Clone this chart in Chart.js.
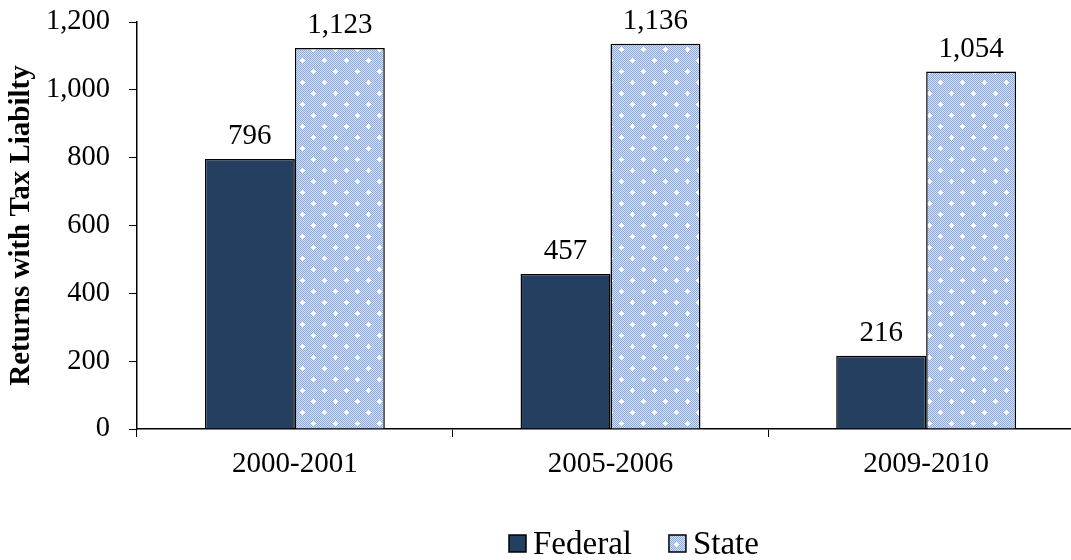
<!DOCTYPE html>
<html>
<head>
<meta charset="utf-8">
<script src="https://cdn.jsdelivr.net/npm/chart.js@4"></script>
<style>
  html, body { margin: 0; padding: 0; background: #fff; overflow: hidden; }
  #wrap { width: 1071px; height: 560px; overflow: hidden; }
</style>
</head>
<body>
<div id="wrap"><canvas id="taxChart" width="1100" height="560"></canvas></div>
<script>
// chart data
var periods = ['2000-2001', '2005-2006', '2009-2010'];
var federalReturns = [796, 457, 216];
var stateReturns = [1123, 1136, 1054];
var yTicks = [0, 200, 400, 600, 800, 1000, 1200];

var serif = '"Liberation Serif", "Times New Roman", serif';

// light blue checker with white sparkles, like the excel fill
function makeStatePattern() {
    var tile = document.createElement('canvas');
    tile.width = 22;
    tile.height = 22;
    var c = tile.getContext('2d');
    for (var y = 0; y < 22; y++) {
        for (var x = 0; x < 22; x++) {
            c.fillStyle = ((x + y) % 2 === 0) ? '#8aaae0' : '#d3e0f5';
            c.fillRect(x, y, 1, 1);
        }
    }
    c.fillStyle = '#ffffff';
    [[5, 5], [16, 16]].forEach(function (p) {
        c.fillRect(p[0], p[1] - 2, 1, 5);
        c.fillRect(p[0] - 2, p[1], 5, 1);
        c.fillRect(p[0] - 1, p[1] - 1, 3, 3);
    });
    return document.getElementById('taxChart').getContext('2d').createPattern(tile, 'repeat');
}

var valueLabels = {
    id: 'valueLabels',
    afterDatasetsDraw: function (chart) {
        var ctx = chart.ctx;
        ctx.save();
        ctx.font = '29px ' + serif;
        ctx.fillStyle = '#000';
        ctx.textAlign = 'center';
        ctx.textBaseline = 'alphabetic';
        chart.data.datasets.forEach(function (ds, i) {
            chart.getDatasetMeta(i).data.forEach(function (bar, j) {
                ctx.fillText(ds.data[j].toLocaleString('en-US'), bar.x, bar.y - 15);
            });
        });
        ctx.restore();
    }
};

// legend drawn by hand so it can sit where excel put it
var bottomLegend = {
    id: 'bottomLegend',
    afterDraw: function (chart) {
        var ctx = chart.ctx;
        var x = 509, y = 543;
        ctx.save();
        ctx.font = '33px ' + serif;
        ctx.textBaseline = 'middle';
        chart.data.datasets.forEach(function (ds) {
            ctx.fillStyle = ds.backgroundColor;
            ctx.fillRect(x, y - 8, 17, 17);
            ctx.strokeStyle = '#000';
            ctx.lineWidth = 1.5;
            ctx.strokeRect(x, y - 8, 17, 17);
            ctx.fillStyle = '#000';
            ctx.fillText(ds.label, x + 24, y + 2);
            x += 24 + ctx.measureText(ds.label).width + 37;
        });
        ctx.restore();
    }
};

document.addEventListener('DOMContentLoaded', function () {
    Chart.defaults.font.family = serif;
    Chart.defaults.color = '#000';

    new Chart(document.getElementById('taxChart'), {
        type: 'bar',
        data: {
            labels: periods,
            datasets: [{
                label: 'Federal',
                data: federalReturns,
                backgroundColor: '#243f60',
                borderColor: '#000',
                borderWidth: 1.5,
                categoryPercentage: 0.57,
                barPercentage: 1
            }, {
                label: 'State',
                data: stateReturns,
                backgroundColor: makeStatePattern(),
                borderColor: '#000',
                borderWidth: 1.5,
                categoryPercentage: 0.57,
                barPercentage: 1
            }]
        },
        options: {
            responsive: false,
            devicePixelRatio: 1,
            animation: false,
            layout: { padding: { top: 22, right: 16, left: 0, bottom: 0 } },
            plugins: {
                tooltip: { enabled: false },
                legend: { display: false }
            },
            scales: {
                x: {
                    grid: { display: true, drawOnChartArea: false, drawTicks: true, tickLength: 8, color: '#000', offset: true },
                    border: { display: true, color: '#000', width: 1.5 },
                    ticks: { font: { size: 29 }, padding: 10 },
                    afterFit: function (scale) { scale.height = 131; }
                },
                y: {
                    min: 0,
                    max: 1200,
                    afterBuildTicks: function (scale) {
                        scale.ticks = yTicks.map(function (v) { return { value: v }; });
                    },
                    grid: { display: true, drawOnChartArea: false, drawTicks: true, tickLength: 8, color: '#000' },
                    border: { display: true, color: '#000', width: 1.5 },
                    ticks: {
                        font: { size: 28.5 },
                        padding: 19,
                        callback: function (v) { return v.toLocaleString('en-US'); }
                    },
                    title: {
                        display: true,
                        text: 'Returns with Tax Liabilty',
                        font: { size: 29, weight: 'bold' },
                        padding: { top: 4, bottom: 0 }
                    },
                    afterFit: function (scale) {
                        scale.width = 137;
                        scale.paddingTop = 0;
                        scale.paddingBottom = 0;
                    }
                }
            }
        },
        plugins: [valueLabels, bottomLegend]
    });
});
</script>
</body>
</html>
